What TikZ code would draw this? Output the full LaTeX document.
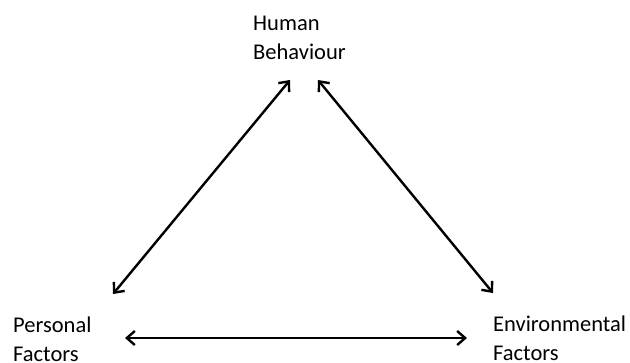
\documentclass[tikz,border=0pt]{standalone}
\usepackage{fontspec}
\setmainfont{Carlito}
\usetikzlibrary{arrows.meta}
\begin{document}
\begin{tikzpicture}[x=1pt,y=-1pt,
  lbl/.style={anchor=base west,inner sep=0pt,align=left,font=\fontsize{22.5}{29}\selectfont},
  conn/.style={line width=2.4pt,{Straight Barb[length=8pt,width=14pt]}-{Straight Barb[length=8pt,width=14pt]}}]
\useasboundingbox[fill=white] (0,0) rectangle (630,362);
\node[lbl] (hb) at (253,59) {Human\\Behaviour};
\node[lbl] (pf) at (13,361) {Personal\\Factors};
\node[lbl] (ef) at (493,360) {Environmental\\Factors};
\coordinate (hbL) at (290,80);
\coordinate (hbR) at (318,80);
\coordinate (pfU) at (113,294);
\coordinate (pfR) at (125,338);
\coordinate (efU) at (493,293);
\coordinate (efL) at (467,338);
\draw[conn] (pfU) -- (hbL);
\draw[conn] (hbR) -- (efU);
\draw[conn] (pfR) -- (efL);
\end{tikzpicture}
\end{document}
